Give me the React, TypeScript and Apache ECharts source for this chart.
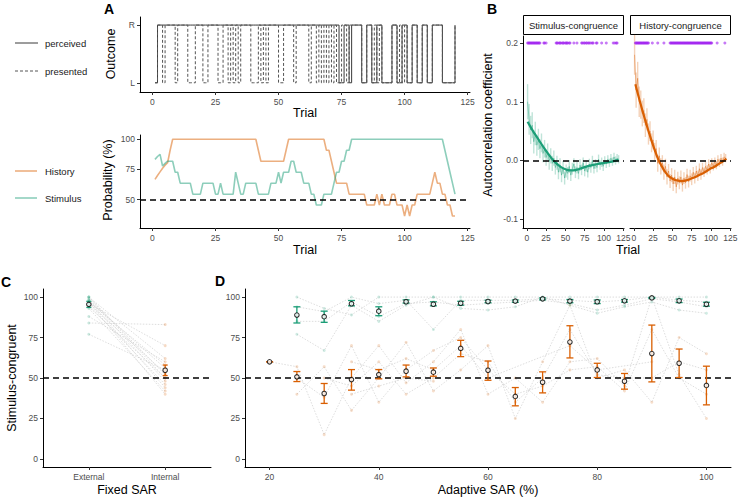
import React, { useEffect, useRef } from 'react';
import * as echarts from 'echarts';

const FONT = "'Liberation Sans', Arial, Helvetica, sans-serif";
const GREEN = '#1b9e77';
const ORANGE = '#d95f02';
const PURPLE = '#a020f0';

// ---------- Panel A (top): outcome per trial (1 = R, 0 = L) ----------
const trialTicks = [0, 25, 50, 75, 100, 125];
const perceived = [
  0, 1, 1, 1, 1, 1, 1, 1, 1, 1,
  1, 1, 1, 1, 1, 1, 1, 1, 1, 1,
  1, 1, 1, 1, 1, 1, 1, 1, 1, 1,
  1, 1, 1, 1, 1, 1, 1, 1, 1, 1,
  1, 1, 1, 1, 1, 1, 1, 1, 1, 1,
  1, 1, 1, 1, 1, 1, 1, 1, 1, 1,
  1, 1, 1, 1, 1, 1, 1, 1, 1, 1,
  1, 1, 1, 0, 0, 1, 1, 0, 1, 1,
  1, 1, 0, 0, 1, 1, 0, 0, 1, 1,
  0, 0, 0, 0, 1, 1, 0, 0, 1, 1,
  0, 0, 1, 1, 0, 0, 1, 1, 0, 0,
  1, 1, 1, 1, 0, 0, 0, 0, 0, 1,
];
const presented = [
  0, 1, 1, 0, 1, 1, 1, 1, 0, 1,
  1, 1, 1, 0, 0, 0, 1, 1, 1, 0,
  0, 1, 1, 1, 1, 0, 0, 1, 1, 0,
  1, 0, 1, 0, 1, 1, 1, 1, 0, 0,
  0, 1, 0, 1, 0, 1, 1, 1, 1, 0,
  0, 1, 1, 1, 1, 0, 1, 1, 1, 1,
  1, 0, 1, 1, 0, 1, 0, 1, 0, 1,
  0, 1, 0, 0, 1, 1, 0, 1, 1, 1,
  1, 1, 0, 0, 1, 1, 0, 1, 0, 1,
  0, 0, 0, 0, 1, 1, 0, 1, 0, 1,
  0, 0, 1, 1, 0, 0, 1, 1, 0, 0,
  1, 1, 1, 1, 0, 0, 0, 0, 0, 1,
];

// ---------- Panel A (bottom): probability (%) ----------
const historyProb = [
  66.7, 70, 73, 76, 78.5, 80.5, 90.9, 100, 100, 100,
  100, 100, 100, 100, 100, 100, 100, 100, 100, 100,
  100, 100, 100, 100, 100, 100, 100, 100, 100, 100,
  100, 100, 100, 100, 100, 100, 100, 100, 100, 100,
  100, 90.9, 81.8, 81.8, 81.8, 81.8, 81.8, 81.8, 81.8, 81.8,
  81.8, 81.8, 90.9, 100, 100, 100, 100, 100, 100, 100,
  100, 100, 100, 100, 100, 100, 100, 100, 90.9, 90.9,
  81.8, 72.7, 63.6, 63.6, 63.6, 63.6, 63.6, 54.5, 54.5, 54.5,
  54.5, 54.5, 54.5, 54.5, 45.5, 45.5, 45.5, 45.5, 54.5, 45.5,
  54.5, 45.5, 45.5, 45.5, 54.5, 54.5, 45.5, 45.5, 45.5, 36.4,
  45.5, 36.4, 45.5, 45.5, 54.5, 54.5, 54.5, 54.5, 54.5, 54.5,
  63.6, 72.7, 63.6, 63.6, 54.5, 54.5, 45.5, 45.5, 36.4, 36.4,
];
const stimulusProb = [
  83.3, 85.7, 87.5, 77.8, 80, 81.8, 81.8, 81.8, 72.7, 72.7,
  63.6, 63.6, 63.6, 63.6, 63.6, 54.5, 54.5, 54.5, 54.5, 63.6,
  63.6, 63.6, 63.6, 63.6, 54.5, 54.5, 63.6, 54.5, 54.5, 54.5,
  54.5, 54.5, 72.7, 63.6, 54.5, 54.5, 63.6, 63.6, 63.6, 63.6,
  63.6, 54.5, 54.5, 54.5, 54.5, 54.5, 63.6, 63.6, 63.6, 72.7,
  63.6, 72.7, 72.7, 72.7, 81.8, 81.8, 72.7, 72.7, 72.7, 63.6,
  63.6, 63.6, 54.5, 54.5, 45.5, 45.5, 45.5, 54.5, 54.5, 54.5,
  54.5, 63.6, 72.7, 72.7, 81.8, 81.8, 90.9, 90.9, 100, 100,
  100, 100, 100, 100, 100, 100, 100, 100, 100, 100,
  100, 100, 100, 100, 100, 100, 100, 100, 100, 100,
  100, 100, 100, 100, 100, 100, 100, 100, 100, 100,
  100, 100, 100, 100, 100, 90.9, 81.8, 72.7, 63.6, 54.5,
];

// ---------- Panel B: autocorrelation ----------
const bYTicks = [-0.1, 0, 0.1, 0.2];
// raw coefficients at odd trials (1, 3, ..., 119)
const stimRaw = [
  0.100, 0.070, 0.052, 0.060, 0.032, 0.046, 0.026, 0.036, 0.020, 0.030,
  0.012, 0.020, 0.005, 0.015, -0.002, 0.008, -0.005, 0.004, -0.012, -0.004,
  -0.020, -0.008, -0.025, -0.012, -0.030, -0.018, -0.022, -0.010, -0.025, -0.014,
  -0.006, -0.020, -0.012, -0.022, -0.008, -0.016, -0.004, -0.018, -0.010, -0.020,
  -0.006, -0.012, 0.000, -0.014, -0.006, -0.012, 0.002, -0.008, -0.003, -0.010,
  0.000, -0.006, 0.002, -0.004, 0.004, -0.002, 0.006, 0.000, 0.004, 0.002,
];
const stimSe = [
  0.030, 0.026, 0.024, 0.022, 0.020, 0.020, 0.018, 0.018, 0.016, 0.016,
  0.015, 0.015, 0.014, 0.014, 0.014, 0.013, 0.013, 0.013, 0.012, 0.012,
  0.012, 0.012, 0.012, 0.011, 0.011, 0.011, 0.011, 0.011, 0.010, 0.010,
  0.010, 0.010, 0.010, 0.010, 0.010, 0.009, 0.009, 0.009, 0.009, 0.009,
  0.009, 0.009, 0.008, 0.008, 0.008, 0.008, 0.008, 0.008, 0.008, 0.008,
  0.007, 0.007, 0.007, 0.007, 0.007, 0.007, 0.007, 0.007, 0.007, 0.007,
];
const histRaw = [
  0.180, 0.120, 0.140, 0.100, 0.095, 0.080, 0.085, 0.060, 0.070, 0.045,
  0.050, 0.030, 0.035, 0.015, 0.020, -0.005, 0.008, -0.010, -0.004, -0.020,
  -0.010, -0.028, -0.018, -0.035, -0.025, -0.040, -0.028, -0.045, -0.030, -0.038,
  -0.028, -0.042, -0.030, -0.038, -0.024, -0.036, -0.026, -0.032, -0.020, -0.030,
  -0.018, -0.026, -0.014, -0.024, -0.012, -0.020, -0.010, -0.016, -0.006, -0.014,
  -0.004, -0.010, -0.002, -0.008, 0.002, -0.004, 0.004, -0.002, 0.006, 0.004,
];
const histSe = [
  0.034, 0.030, 0.028, 0.026, 0.024, 0.022, 0.021, 0.020, 0.019, 0.018,
  0.017, 0.016, 0.016, 0.015, 0.015, 0.014, 0.014, 0.014, 0.013, 0.013,
  0.013, 0.013, 0.012, 0.012, 0.012, 0.012, 0.012, 0.011, 0.011, 0.011,
  0.011, 0.011, 0.010, 0.010, 0.010, 0.010, 0.010, 0.010, 0.009, 0.009,
  0.009, 0.009, 0.009, 0.009, 0.008, 0.008, 0.008, 0.008, 0.008, 0.008,
  0.008, 0.007, 0.007, 0.007, 0.007, 0.007, 0.007, 0.007, 0.007, 0.007,
];
const stimTrendTrial = [1, 8, 15, 22, 29, 36, 43, 50, 57, 64, 71, 78, 85, 92, 99, 106, 113, 119];
const stimTrend = [0.066, 0.05, 0.036, 0.022, 0.009, -0.002, -0.01, -0.015, -0.017, -0.016, -0.013, -0.01, -0.008, -0.006, -0.0045, -0.003, -0.001, 0.001];
const histTrendTrial = [2, 8, 14, 20, 26, 32, 38, 44, 50, 56, 62, 68, 74, 80, 86, 92, 98, 104, 110, 116, 120];
const histTrend = [0.13, 0.1, 0.072, 0.046, 0.022, 0.001, -0.014, -0.025, -0.031, -0.034, -0.035, -0.034, -0.031, -0.028, -0.024, -0.02, -0.015, -0.011, -0.006, -0.001, 0.003];
const stimSigTrials = [1, 2, 3, 4, 5, 6, 7, 8, 9, 10, 11, 12, 13, 14, 15, 16, 17, 22, 23, 25, 38, 39, 40, 42, 43, 44, 46, 47, 48, 50, 51, 52, 53, 55, 56, 61, 65, 71, 72, 74, 75, 77, 78, 80, 81, 83, 85, 86, 90, 91, 97, 103, 112, 114, 116, 117];
const histSigTrials = [2, 3, 4, 5, 6, 7, 8, 9, 10, 11, 12, 13, 14, 15, 16, 17, 18, 19, 24, 31, 39, 47, 48, 49, 50, 51, 52, 53, 54, 55, 56, 57, 58, 59, 60, 61, 62, 63, 64, 65, 66, 67, 68, 69, 70, 71, 72, 73, 74, 75, 76, 77, 78, 79, 80, 81, 82, 83, 84, 85, 86, 87, 88, 89, 90, 91, 92, 93, 94, 95, 96, 97, 98, 99, 100, 101, 108, 118];
const sigLevel = 0.2;

// ---------- Panel C: fixed SAR ----------
const cCategories = ['External', 'Internal'];
const pctTicks = [0, 25, 50, 75, 100];
const cExternal = [100, 100, 99, 98, 98, 97, 97, 96, 96, 95, 94, 93, 88, 84, 77, 100];
const cInternal = [52, 62, 48, 56, 44, 58, 40, 53, 70, 46, 50, 42, 60, 83, 55, 50];
const cMean = [95.5, 54.8];
const cLow = [93.6, 51.5];
const cHigh = [97.4, 58];

// ---------- Panel D: adaptive SAR ----------
const dLevels = [20, 25, 30, 35, 40, 45, 50, 55, 60, 65, 70, 75, 80, 85, 90, 95, 100];
const dTicks = [20, 40, 60, 80, 100];
const dHistMean = [60, 50.7, 40.4, 49, 52.1, 54.2, 53.6, 68.3, 54.8, 38.6, 47.4, 72.2, 55, 48, 65.1, 59.1, 45.4];
const dHistLow = [60, 47.8, 34.3, 42.5, 49.5, 50.7, 51.1, 63.2, 48.6, 32.8, 40.8, 62.4, 50.3, 43.1, 47.6, 50.3, 33.4];
const dHistHigh = [60, 54, 46.6, 55.2, 55.2, 58, 56.2, 73.3, 60.5, 44.1, 53.8, 82.3, 59.1, 52.8, 82.7, 67.9, 57.3];
const dStimMean = [null, 88.9, 87.9, 95.9, 91.3, 97.1, 95.6, 96.2, 97.3, 97.5, 98.9, 97.5, 97.1, 97.7, 99.5, 97.7, 95.6];
const dStimLow = [null, 84, 84.4, 94.6, 88.5, 96.3, 94.6, 95, 96.5, 96.8, 98.3, 96.5, 96, 96.9, 99.2, 96.6, 94.4];
const dStimHigh = [null, 94, 91.3, 97.9, 94, 98.3, 97.1, 97.4, 98.1, 98.2, 99.5, 98.5, 98.2, 98.5, 99.8, 98.8, 96.8];
const dHistParticipants = [
  [60, 57, 15, 50, 70, 47, 60, 80, 40, 50, 35, 60, 62, 45, 100, 52, 25],
  [null, 40, 57, 30, 50, 72, 42, 55, 70, 25, 60, 95, 50, 55, 35, 75, 65],
  [null, 50, 38, 70, 35, 55, 67, 75, 55, 40, 45, 55, 57, 42, 80, 50, 40],
  [null, null, 50, 45, 60, 40, 50, 65, 60, 35, 50, 80, 52, 50, 50, 60, 55],
  [null, null, null, 60, 55, 62, 55, 70, 50, null, null, 70, 55, null, 60, null, null],
  [null, null, null, 40, 45, 50, 48, null, null, null, null, null, null, null, null, null, null],
  [null, null, null, null, 50, null, null, null, null, null, null, null, null, null, null, null, null],
];
const dStimParticipants = [
  [null, 100, 93, 89, 100, 100, 100, 100, 100, 100, 100, 100, 100, 100, 100, 100, 100],
  [null, 94, 91, 100, 96, 98, 80, 98, 98, 98, 99, 98, 97, 98, 100, 98, 97],
  [null, 85, 85, 97, 88, 96, 97, 95, 96, 97, 98, 96, 92, 95, 99, 97, 94],
  [null, 77, 67, 95, 85, 95, 100, 93, 92, 94, 100, 95, 90, 94, 97, 92, 90],
];

// ---------- helpers ----------
const tickLabel = { color: '#4d4d4d', fontSize: 8.5, fontFamily: FONT };
const faintLine = '#cfcfcf';

function valAxis(gridIndex: number, min: number, max: number, ticks: number[] | null, formatter?: any, show = true) {
  return {
    type: 'value',
    gridIndex,
    min,
    max,
    show,
    axisLine: { show: true, onZero: false, lineStyle: { color: '#000', width: 1 } },
    axisTick: ticks
      ? { show: true, length: 3, lineStyle: { color: '#333', width: 1 }, customValues: ticks }
      : { show: false },
    axisLabel: ticks
      ? { show: true, ...tickLabel, margin: 5, customValues: ticks, formatter: formatter || ((v: number) => String(v)) }
      : { show: false },
    splitLine: { show: false },
  };
}

function errBars(idx: number, data: number[][], color: string, cap: number, width: number, opacity = 1, z = 3) {
  return {
    type: 'custom',
    xAxisIndex: idx,
    yAxisIndex: idx,
    silent: true,
    z,
    data,
    encode: { x: 0, y: [1, 2] },
    renderItem: (_p: any, api: any) => {
      const x = api.value(0);
      const a = api.coord([x, api.value(1)]);
      const b = api.coord([x, api.value(2)]);
      const st = { stroke: color, lineWidth: width, opacity };
      const children: any[] = [];
      if (Math.abs(a[1] - b[1]) > 0.1) {
        children.push({ type: 'line', shape: { x1: a[0], y1: a[1], x2: b[0], y2: b[1] }, style: st });
      }
      if (cap > 0) {
        children.push({ type: 'line', shape: { x1: a[0] - cap, y1: a[1], x2: a[0] + cap, y2: a[1] }, style: st });
        children.push({ type: 'line', shape: { x1: b[0] - cap, y1: b[1], x2: b[0] + cap, y2: b[1] }, style: st });
      }
      return { type: 'group', children };
    },
  };
}

function hLine(value: number) {
  return {
    silent: true,
    symbol: 'none',
    label: { show: false },
    lineStyle: { color: '#000', type: [6, 4], width: 1.5, opacity: 1 },
    data: [{ yAxis: value }],
  };
}

function txt(x: number, y: number, text: string, size: number, opts: any = {}) {
  return {
    type: 'text',
    x,
    y,
    rotation: opts.rotation || 0,
    silent: true,
    style: {
      text,
      fontSize: size,
      fontFamily: FONT,
      fontWeight: opts.bold ? 'bold' : 'normal',
      fill: opts.fill || '#000',
      align: opts.align || 'center',
      verticalAlign: 'middle',
    },
  };
}

function buildOption() {
  const trials = perceived.map((_, i) => i + 1);
  const rawTrials = stimRaw.map((_, i) => 1 + 2 * i);

  const series: any[] = [];

  // A top
  series.push({
    type: 'line', xAxisIndex: 0, yAxisIndex: 0, step: 'end', symbol: 'none', silent: true,
    data: trials.map((t, i) => [t, perceived[i]]),
    lineStyle: { color: '#3a3a3a', width: 1 },
  });
  series.push({
    type: 'line', xAxisIndex: 0, yAxisIndex: 0, step: 'end', symbol: 'none', silent: true,
    data: trials.map((t, i) => [t, presented[i]]),
    lineStyle: { color: '#555', width: 1, type: [3, 2] },
  });

  // A bottom
  series.push({
    type: 'line', xAxisIndex: 1, yAxisIndex: 1, symbol: 'none', silent: true,
    data: trials.map((t, i) => [t, historyProb[i]]),
    lineStyle: { color: ORANGE, width: 1.6, opacity: 0.5 },
    markLine: hLine(50),
  });
  series.push({
    type: 'line', xAxisIndex: 1, yAxisIndex: 1, symbol: 'none', silent: true,
    data: trials.map((t, i) => [t, stimulusProb[i]]),
    lineStyle: { color: GREEN, width: 1.6, opacity: 0.5 },
  });

  // B panels
  const bPanels = [
    { idx: 2, raw: stimRaw, se: stimSe, tt: stimTrendTrial, tv: stimTrend, sig: stimSigTrials, color: GREEN },
    { idx: 3, raw: histRaw, se: histSe, tt: histTrendTrial, tv: histTrend, sig: histSigTrials, color: ORANGE },
  ];
  for (const p of bPanels) {
    series.push(errBars(p.idx, rawTrials.map((t, i) => [t, p.raw[i] - p.se[i], p.raw[i] + p.se[i]]), p.color, 0, 1.4, 0.28, 2));
    series.push({
      type: 'line', xAxisIndex: p.idx, yAxisIndex: p.idx, symbol: 'none', silent: true, z: 3,
      data: rawTrials.map((t, i) => [t, p.raw[i]]),
      lineStyle: { color: p.color, width: 0.9, opacity: 0.45 },
      markLine: hLine(0),
    });
    series.push({
      type: 'line', xAxisIndex: p.idx, yAxisIndex: p.idx, symbol: 'none', silent: true, z: 4,
      smooth: 0.5,
      data: p.tt.map((t, i) => [t, p.tv[i]]),
      lineStyle: { color: p.color, width: 2.2 },
    });
    series.push({
      type: 'scatter', xAxisIndex: p.idx, yAxisIndex: p.idx, silent: true, symbolSize: 3, z: 4,
      data: p.sig.map((t) => [t, sigLevel]),
      itemStyle: { color: PURPLE, opacity: 0.6 },
    });
  }

  // C
  series.push({
    type: 'custom', xAxisIndex: 4, yAxisIndex: 4, silent: true, z: 1,
    data: cExternal.map((e, i) => [1, e, cInternal[i]]),
    encode: { x: 0, y: [1, 2] },
    renderItem: (_p: any, api: any) => {
      const a = api.coord([1, api.value(1)]);
      const b = api.coord([2, api.value(2)]);
      return { type: 'line', shape: { x1: a[0], y1: a[1], x2: b[0], y2: b[1] }, style: { stroke: faintLine, lineWidth: 0.7, lineDash: [1.5, 1.5] } };
    },
    markLine: hLine(50),
  });
  series.push({
    type: 'scatter', xAxisIndex: 4, yAxisIndex: 4, silent: true, symbolSize: 3, z: 2,
    data: cExternal.map((v) => [1, v]), itemStyle: { color: GREEN, opacity: 0.22 },
  });
  series.push({
    type: 'scatter', xAxisIndex: 4, yAxisIndex: 4, silent: true, symbolSize: 3, z: 2,
    data: cInternal.map((v) => [2, v]), itemStyle: { color: ORANGE, opacity: 0.22 },
  });
  series.push(errBars(4, [[1, cLow[0], cHigh[0]]], GREEN, 2.5, 1.3, 1, 5));
  series.push(errBars(4, [[2, cLow[1], cHigh[1]]], ORANGE, 2.5, 1.3, 1, 5));
  series.push({
    type: 'scatter', xAxisIndex: 4, yAxisIndex: 4, silent: true, symbolSize: 4.5, z: 6,
    data: cMean.map((v, i) => [i + 1, v]),
    itemStyle: { color: '#fff', borderColor: '#000', borderWidth: 1.1 },
  });

  // D
  dHistParticipants.concat(dStimParticipants).forEach((row, k) => {
    series.push({
      type: 'line', xAxisIndex: 5, yAxisIndex: 5, silent: true, z: 1, connectNulls: true,
      symbol: 'circle', symbolSize: 3, showSymbol: true,
      data: dLevels.map((x, i) => [x, row[i]]).filter((d) => d[1] !== null),
      lineStyle: { color: faintLine, width: 0.7, type: [1.5, 1.5] },
      itemStyle: { color: k < dHistParticipants.length ? ORANGE : GREEN, opacity: 0.2 },
    });
  });
  series.push({
    type: 'line', xAxisIndex: 5, yAxisIndex: 5, silent: true, symbol: 'none',
    data: [], markLine: hLine(50),
  });
  series.push(errBars(5, dLevels.map((x, i) => [x, dHistLow[i], dHistHigh[i]]), ORANGE, 3.5, 1.3, 1, 5));
  series.push(errBars(5, dLevels.map((x, i) => [x, dStimLow[i], dStimHigh[i]]).filter((d) => d[1] !== null) as number[][], GREEN, 3.5, 1.3, 1, 5));
  series.push({
    type: 'scatter', xAxisIndex: 5, yAxisIndex: 5, silent: true, symbolSize: 4.5, z: 6,
    data: dLevels.map((x, i) => [x, dHistMean[i]]),
    itemStyle: { color: '#fff', borderColor: '#000', borderWidth: 1.1 },
  });
  series.push({
    type: 'scatter', xAxisIndex: 5, yAxisIndex: 5, silent: true, symbolSize: 4.5, z: 6,
    data: dLevels.map((x, i) => [x, dStimMean[i]]).filter((d) => d[1] !== null),
    itemStyle: { color: '#fff', borderColor: '#000', borderWidth: 1.1 },
  });

  const grid = [
    { left: 140, top: 17, width: 330, height: 75 },
    { left: 140, top: 135, width: 330, height: 93 },
    { left: 523, top: 36, width: 101, height: 192 },
    { left: 630, top: 36, width: 101, height: 192 },
    { left: 43, top: 289, width: 168, height: 178 },
    { left: 245, top: 289, width: 486, height: 178 },
  ].map((g) => ({ ...g, containLabel: false, outerBoundsMode: 'none' }));

  const bFmt = (v: number) => (v === 0 ? '0.0' : v.toFixed(1));
  const xAxis = [
    valAxis(0, -4.95, 125.95, trialTicks),
    valAxis(1, -4.95, 125.95, trialTicks),
    valAxis(2, -4.95, 125.95, trialTicks),
    valAxis(3, -4.95, 125.95, trialTicks),
    valAxis(4, 0.4, 2.6, [1, 2], (v: number) => cCategories[Math.round(v) - 1]),
    valAxis(5, 15.5, 104.5, dTicks),
  ];
  const bRightY: any = valAxis(3, -0.115, 0.212, null);
  bRightY.axisLine = { show: false };
  const yAxis = [
    valAxis(0, -0.16, 1.14, [0, 1], (v: number) => (v === 1 ? 'R' : 'L')),
    valAxis(1, 26.5, 103.5, [50, 75, 100]),
    valAxis(2, -0.115, 0.212, bYTicks, bFmt),
    bRightY,
    valAxis(4, -5, 105, pctTicks),
    valAxis(5, -5, 105, pctTicks),
  ];

  const graphic: any[] = [
    // panel letters
    txt(109, 9, 'A', 14, { bold: true }),
    txt(492, 9, 'B', 14, { bold: true }),
    txt(6, 282, 'C', 14, { bold: true }),
    txt(220, 281, 'D', 14, { bold: true }),
    // legends
    { type: 'line', silent: true, shape: { x1: 15, y1: 43, x2: 38, y2: 43 }, style: { stroke: '#3a3a3a', lineWidth: 1 } },
    { type: 'line', silent: true, shape: { x1: 15, y1: 71, x2: 38, y2: 71 }, style: { stroke: '#555', lineWidth: 1, lineDash: [3, 2] } },
    txt(45, 43, 'perceived', 9.5, { align: 'left', fill: '#1a1a1a' }),
    txt(45, 71, 'presented', 9.5, { align: 'left', fill: '#1a1a1a' }),
    { type: 'line', silent: true, shape: { x1: 15, y1: 171, x2: 37, y2: 171 }, style: { stroke: ORANGE, lineWidth: 1.6, opacity: 0.5 } },
    { type: 'line', silent: true, shape: { x1: 15, y1: 198, x2: 37, y2: 198 }, style: { stroke: GREEN, lineWidth: 1.6, opacity: 0.5 } },
    txt(45, 171, 'History', 9.5, { align: 'left', fill: '#1a1a1a' }),
    txt(45, 198, 'Stimulus', 9.5, { align: 'left', fill: '#1a1a1a' }),
    // axis titles
    txt(111, 54, 'Outcome', 12.5, { rotation: Math.PI / 2 }),
    txt(305, 113, 'Trial', 12.5),
    txt(108, 180, 'Probability (%)', 12.5, { rotation: Math.PI / 2 }),
    txt(305, 250, 'Trial', 12.5),
    txt(488, 125, 'Autocorrelation coefficient', 12.5, { rotation: Math.PI / 2 }),
    txt(628, 250, 'Trial', 12.5),
    txt(12, 378, 'Stimulus-congruent', 12.5, { rotation: Math.PI / 2 }),
    txt(127, 490, 'Fixed SAR', 12.5),
    txt(488, 490, 'Adaptive SAR (%)', 12.5),
    // strips
    { type: 'rect', silent: true, shape: { x: 523.5, y: 15.5, width: 100, height: 19 }, style: { fill: '#fff', stroke: '#000', lineWidth: 1 } },
    { type: 'rect', silent: true, shape: { x: 630.5, y: 15.5, width: 100, height: 19 }, style: { fill: '#fff', stroke: '#000', lineWidth: 1 } },
    txt(573.5, 25, 'Stimulus-congruence', 9.5, { fill: '#1a1a1a' }),
    txt(680.5, 25, 'History-congruence', 9.5, { fill: '#1a1a1a' }),
  ];

  return {
    animation: false,
    backgroundColor: '#fff',
    textStyle: { fontFamily: FONT },
    grid,
    xAxis,
    yAxis,
    series,
    graphic,
  };
}

export default function App() {
  const ref = useRef<HTMLDivElement>(null);
  useEffect(() => {
    if (!ref.current) return;
    const chart = echarts.init(ref.current, undefined, { renderer: 'svg' });
    chart.setOption(buildOption() as any);
    return () => chart.dispose();
  }, []);
  return <div ref={ref} style={{ position: 'absolute', left: 0, top: 0, width: 739, height: 503 }} />;
}
